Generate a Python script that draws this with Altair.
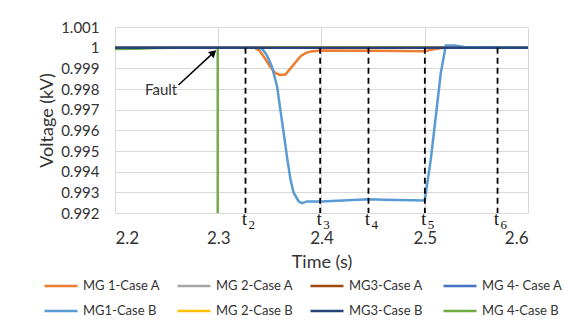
import altair as alt
import pandas as pd

# ---------------- data ----------------
series_names = ["MG 1-Case A", "MG 2-Case A", "MG3-Case A", "MG 4- Case A",
                "MG1-Case B", "MG 2-Case B", "MG3-Case B", "MG 4-Case B"]
series_colors = ["#ED7D31", "#A5A5A5", "#9E480E", "#4472C4",
                 "#5B9BD5", "#FFC000", "#264478", "#70AD47"]

flat_time = [2.2, 2.6]
flat_volt = [1.0, 1.0]

mg1a_time = [2.2, 2.335, 2.34, 2.345, 2.35, 2.355, 2.36, 2.365, 2.37, 2.375,
             2.38, 2.385, 2.39, 2.40, 2.45, 2.50, 2.505, 2.51, 2.515, 2.52, 2.6]
mg1a_volt = [1.0, 1.0, 0.99985, 0.9995, 0.9991, 0.99878, 0.99868, 0.9987, 0.9990, 0.9993,
             0.9996, 0.99975, 0.99982, 0.99986, 0.99985, 0.99983, 0.99988, 0.99993, 0.99997, 1.0, 1.0]

mg1b_time = [2.2, 2.338, 2.3424, 2.347, 2.352, 2.357, 2.3602, 2.3634, 2.367, 2.370,
             2.3731, 2.378, 2.3812, 2.386, 2.40, 2.446, 2.4605, 2.50,
             2.5058, 2.5107, 2.5155, 2.5204, 2.5285, 2.538, 2.6]
mg1b_volt = [1.0, 1.0, 0.99995, 0.99965, 0.99908, 0.99812, 0.99699, 0.99586, 0.99457, 0.99361,
             0.99297, 0.99256, 0.99248, 0.99256, 0.99256, 0.99267, 0.99264, 0.9926,
             0.99457, 0.99667, 0.99876, 1.0001, 1.0001, 1.00003, 1.0]

mg4b_time = [2.2, 2.22, 2.24, 2.26, 2.2995, 2.2995]
mg4b_volt = [0.99993, 0.99995, 0.99998, 1.0, 1.0, 0.992]

series_data = {
    "MG 1-Case A": (mg1a_time, mg1a_volt),
    "MG 2-Case A": (flat_time, flat_volt),
    "MG3-Case A": (flat_time, flat_volt),
    "MG 4- Case A": (flat_time, flat_volt),
    "MG1-Case B": (mg1b_time, mg1b_volt),
    "MG 2-Case B": (flat_time, flat_volt),
    "MG3-Case B": (flat_time, flat_volt),
    "MG 4-Case B": (mg4b_time, mg4b_volt),
}
draw_order = ["MG 2-Case A", "MG3-Case A", "MG 4- Case A", "MG 2-Case B",
              "MG 4-Case B", "MG 1-Case A", "MG1-Case B", "MG3-Case B"]

event_time = [2.3264, 2.3987, 2.4455, 2.5001, 2.5705]
event_sub = ["2", "3", "4", "5", "6"]

x_ticks = [2.2, 2.3, 2.4, 2.5, 2.6]
y_ticks = [0.992, 0.993, 0.994, 0.995, 0.996, 0.997, 0.998, 0.999, 1.0, 1.001]

fault_text = ["Fault"]
fault_pos = [2.2447, 0.99795]
arrow_tail = [2.2615, 0.99819]
arrow_head = [2.2954, 0.99976]

# ---------------- build ----------------
FONT = "Lato"
xscale = alt.Scale(domain=[2.2, 2.6], nice=False, zero=False)
yscale = alt.Scale(domain=[0.992, 1.001], nice=False, zero=False)

# legend fills column by column: interleave so rows read A-series then B-series
legend_order = [series_names[i + 4 * r] for i in range(4) for r in range(2)]
legend_colors = [series_colors[series_names.index(n)] for n in legend_order]

legend = alt.Legend(
    orient="none", legendX=-72, legendY=251, columns=4, title=None,
    symbolType="stroke", symbolSize=1089, symbolStrokeWidth=2.5,
    labelFont=FONT, labelFontSize=13, labelColor="#333333", labelOffset=4,
    columnPadding=12, rowPadding=9, clipHeight=16, gridAlign="all",
)
color = alt.Color("series:N",
                  scale=alt.Scale(domain=legend_order, range=legend_colors),
                  legend=legend)

x_axis = alt.Axis(values=x_ticks, labelExpr="format(datum.value, '.1f')", title="Time (s)",
                  labelFontSize=17, labelPadding=17, titleFontSize=18,
                  titlePadding=7, labelOverlap=False)
y_axis = alt.Axis(values=y_ticks,
                  labelExpr="abs(datum.value - 1) < 1e-9 ? '1' : format(datum.value, '.3f')",
                  title="Voltage (kV)",
                  labelFontSize=15, labelPadding=16, titleFontSize=18,
                  titlePadding=4, labelOverlap=False, labelSeparation=0)


def X(field):
    return alt.X(field, type="quantitative", scale=xscale, axis=x_axis)


def Y(field):
    return alt.Y(field, type="quantitative", scale=yscale, axis=y_axis)


layers = []
for name in draw_order:
    t, v = series_data[name]
    d = pd.DataFrame({"time": t, "volt": v, "series": name, "idx": list(range(len(t)))})
    layers.append(
        alt.Chart(d).mark_line(strokeWidth=2.5, clip=True).encode(
            x=X("time"), y=Y("volt"), color=color, order="idx:Q")
    )

ev = pd.DataFrame({"time": event_time, "sub": event_sub,
                   "top": [1.0] * len(event_time), "bot": [0.992] * len(event_time)})
rules = alt.Chart(ev).mark_rule(color="black", strokeWidth=1.8, strokeDash=[6, 4]).encode(
    x=X("time"), y=Y("top"), y2="bot:Q")
t_text = alt.Chart(ev).mark_text(text="t", font="Liberation Serif", fontSize=18,
                                 align="center", baseline="alphabetic", dx=-1,
                                 color="#111111").encode(
    x=X("time"), y=alt.value(198))
t_sub = alt.Chart(ev).mark_text(font="Liberation Serif", fontSize=13,
                                align="left", baseline="alphabetic", dx=3,
                                color="#111111").encode(
    x=X("time"), y=alt.value(202), text="sub:N")

arr = pd.DataFrame({"x": [arrow_tail[0]], "y": [arrow_tail[1]],
                    "x2": [arrow_head[0]], "y2": [arrow_head[1]]})
arrow_line = alt.Chart(arr).mark_rule(color="black", strokeWidth=1.5).encode(
    x=X("x"), y=Y("y"), x2="x2:Q", y2="y2:Q")
arrow_tip = alt.Chart(arr).mark_point(shape="triangle-up", filled=True, size=70,
                                      angle=47, color="black", opacity=1).encode(
    x=X("x2"), y=Y("y2"))
fault = alt.Chart(pd.DataFrame({"x": [fault_pos[0]], "y": [fault_pos[1]], "t": fault_text})
                  ).mark_text(font=FONT, fontSize=15, color="#333333").encode(
    x=X("x"), y=Y("y"), text="t:N")

chart = alt.layer(*layers, rules, t_text, t_sub, arrow_line, arrow_tip, fault).properties(
    width=413, height=186,
    autosize=alt.AutoSizeParams(type="none"),
    padding={"left": 107, "top": 19, "right": 50, "bottom": 111},
).configure_axis(
    grid=True, gridColor="#D9D9D9", domainColor="#D9D9D9", ticks=False,
    labelFont=FONT, titleFont=FONT, labelColor="#333333", titleColor="#333333",
    titleFontWeight="normal", labelOverlap=False,
).configure_view(stroke=None)

chart.save("out.html", embed_options={"renderer": "svg", "actions": False})
